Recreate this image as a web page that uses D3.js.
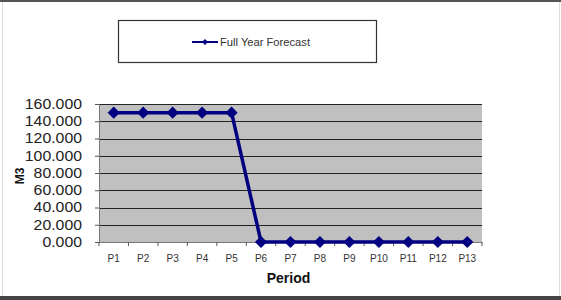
<!DOCTYPE html>
<html lang="en">
<head>
  <meta charset="UTF-8" />
  <title>Full Year Forecast</title>
  <script src="https://d3js.org/d3.v7.min.js"></script>
  <style>
    body { margin: 0; padding: 0; background: #fff; }
    svg { display: block; font-family: Arial, "Liberation Sans", sans-serif; }
  </style>
</head>
<body>
  <svg id="chart" width="561" height="300"></svg>
  <script>
    // chart data
    const periods = ["P1","P2","P3","P4","P5","P6","P7","P8","P9","P10","P11","P12","P13"];
    const forecast = [150, 150, 150, 150, 150, 0, 0, 0, 0, 0, 0, 0, 0];
    const yTicks = [0, 20, 40, 60, 80, 100, 120, 140, 160];
    const seriesName = "Full Year Forecast";

    const svg = d3.select("#chart");
    const plot = { left: 99, right: 482, top: 104, bottom: 242 };

    // outer frame
    svg.append("rect").attr("x", 0).attr("y", 0).attr("width", 561).attr("height", 2).attr("fill", "#555");
    svg.append("rect").attr("x", 0).attr("y", 296).attr("width", 561).attr("height", 4).attr("fill", "#444");
    svg.append("line").attr("x1", 2.5).attr("x2", 2.5).attr("y1", 2).attr("y2", 296).attr("stroke", "#ddd");
    svg.append("line").attr("x1", 559.5).attr("x2", 559.5).attr("y1", 2).attr("y2", 296).attr("stroke", "#ddd");

    const x = d3.scaleBand().domain(periods).range([plot.left, plot.right]);
    const y = d3.scaleLinear().domain([0, 160]).range([plot.bottom, plot.top]);

    // plot background
    svg.append("rect")
      .attr("x", plot.left).attr("y", plot.top)
      .attr("width", plot.right - plot.left).attr("height", plot.bottom - plot.top)
      .attr("fill", "#c0c0c0");

    // gridlines
    svg.append("g").selectAll("line")
      .data(yTicks.filter(d => d > 0))
      .join("line")
      .attr("x1", plot.left).attr("x2", plot.right)
      .attr("y1", d => Math.round(y(d)) + 0.5).attr("y2", d => Math.round(y(d)) + 0.5)
      .attr("stroke", "#222").attr("stroke-width", 1.2);

    // y axis
    const yAxis = svg.append("g")
      .attr("transform", `translate(${plot.left},0)`)
      .call(d3.axisLeft(y).tickValues(yTicks).tickSize(4).tickPadding(13).tickFormat(d3.format(".3f")));
    yAxis.select(".domain").attr("stroke", "#777");
    yAxis.selectAll(".tick line").attr("stroke", "#555");
    yAxis.selectAll("text")
      .attr("font-size", 14).attr("fill", "#222")
      .attr("font-family", "Arial, 'Liberation Sans', sans-serif")
      .each(function () {
        // labels in the picture are a little wider than plain Arial
        const w = this.getComputedTextLength();
        d3.select(this).attr("textLength", w * 1.13).attr("lengthAdjust", "spacingAndGlyphs");
      });

    // x axis
    const xAxis = svg.append("g")
      .attr("transform", `translate(0,${plot.bottom})`)
      .call(d3.axisBottom(x).tickSize(0).tickPadding(13));
    xAxis.select(".domain").attr("stroke", "#777");
    xAxis.selectAll("text")
      .attr("font-size", 10).attr("fill", "#333")
      .attr("font-family", "Arial, 'Liberation Sans', sans-serif");
    // tick marks between categories
    svg.append("g").selectAll("line")
      .data(d3.range(periods.length + 1))
      .join("line")
      .attr("x1", i => plot.left + i * x.step()).attr("x2", i => plot.left + i * x.step())
      .attr("y1", plot.bottom).attr("y2", plot.bottom + 4)
      .attr("stroke", "#555");

    // axis titles
    svg.append("text")
      .attr("x", (plot.left + plot.right) / 2 - 2).attr("y", 283)
      .attr("text-anchor", "middle").attr("font-size", 14).attr("font-weight", "bold")
      .attr("fill", "#111").text("Period");
    svg.append("text")
      .attr("transform", "translate(24,176) rotate(-90)")
      .attr("text-anchor", "middle").attr("font-size", 12).attr("font-weight", "bold")
      .attr("fill", "#111").text("M3");

    // series line
    const line = d3.line()
      .x((d, i) => x(periods[i]) + x.bandwidth() / 2)
      .y(d => y(d));
    svg.append("path")
      .datum(forecast)
      .attr("d", line)
      .attr("fill", "none").attr("stroke", "#000080").attr("stroke-width", 3.5);

    const diamond = d3.symbol().type(d3.symbolDiamond2).size(95);
    svg.append("g").selectAll("path")
      .data(forecast)
      .join("path")
      .attr("d", diamond)
      .attr("transform", (d, i) => `translate(${x(periods[i]) + x.bandwidth() / 2},${y(d)})`)
      .attr("fill", "#000080");

    // legend
    const leg = svg.append("g");
    leg.append("rect")
      .attr("x", 118.5).attr("y", 20.5).attr("width", 258).attr("height", 42)
      .attr("fill", "#fff").attr("stroke", "#333").attr("stroke-width", 1.2);
    leg.append("line")
      .attr("x1", 192).attr("x2", 218).attr("y1", 42).attr("y2", 42)
      .attr("stroke", "#000080").attr("stroke-width", 2);
    leg.append("path")
      .attr("d", d3.symbol().type(d3.symbolDiamond2).size(22))
      .attr("transform", "translate(205,42)").attr("fill", "#000080");
    leg.append("text")
      .attr("x", 220).attr("y", 45.5).attr("font-size", 10).attr("fill", "#333")
      .attr("textLength", 90).attr("lengthAdjust", "spacingAndGlyphs")
      .text(seriesName);
  </script>
</body>
</html>
